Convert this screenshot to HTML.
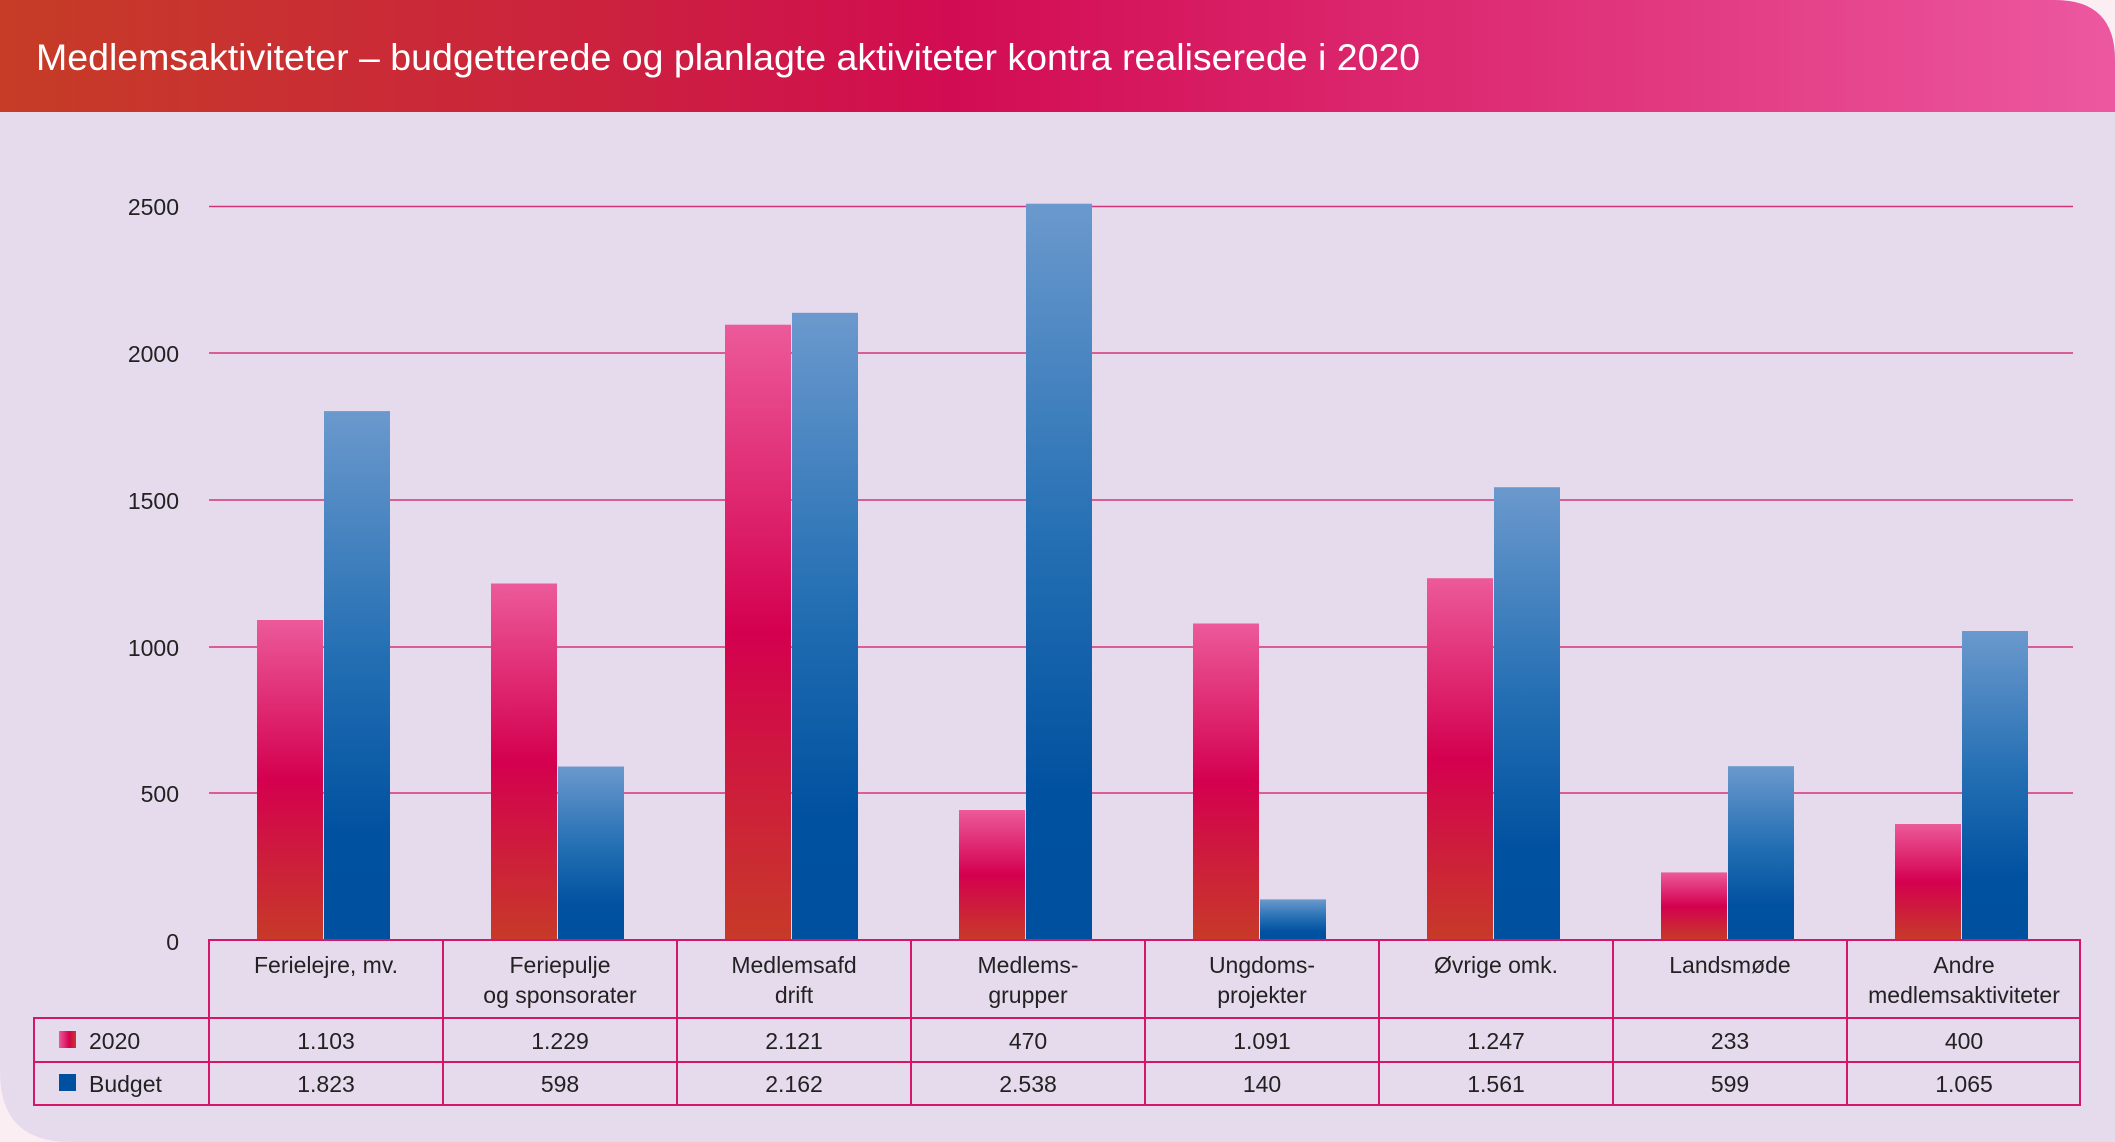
<!DOCTYPE html>
<html><head><meta charset="utf-8"><style>
html,body{margin:0;padding:0;background:#fbeef3;}
svg{display:block;font-family:"Liberation Sans",sans-serif;}
</style></head><body>
<svg width="2115" height="1142" viewBox="0 0 2115 1142" xmlns="http://www.w3.org/2000/svg">
<defs>
<linearGradient id="hd" x1="0" x2="1" y1="0" y2="0">
<stop offset="0" stop-color="#c63c26"/><stop offset="0.3" stop-color="#cc2040"/><stop offset="0.45" stop-color="#d20c52"/><stop offset="0.7" stop-color="#dd2c73"/><stop offset="1" stop-color="#ec58a0"/></linearGradient>
<linearGradient id="pk" x1="0" x2="0" y1="0" y2="1">
<stop offset="0" stop-color="#ec5a9a"/><stop offset="0.5" stop-color="#d4004f"/><stop offset="1" stop-color="#c73a28"/></linearGradient>
<linearGradient id="bl" x1="0" x2="0" y1="0" y2="1">
<stop offset="0" stop-color="#6b99cd"/><stop offset="0.45" stop-color="#2570b4"/><stop offset="0.8" stop-color="#0051a0"/><stop offset="1" stop-color="#0050a0"/></linearGradient>
<linearGradient id="lg" x1="0" x2="1"><stop offset="0" stop-color="#ec5a9a"/><stop offset="0.6" stop-color="#d4004f"/><stop offset="1" stop-color="#c73a28"/></linearGradient>
</defs>
<path d="M0 0 H2055 Q2115 0 2115 60 V1142 H70 Q0 1142 0 1072 Z" fill="#e6dbed"/>
<path d="M0 0 H2055 Q2115 0 2115 60 V112 H0 Z" fill="url(#hd)"/>
<text x="36" y="70" font-size="37.5" fill="#fff">Medlemsaktiviteter – budgetterede og planlagte aktiviteter kontra realiserede i 2020</text>
<g stroke="#d2347a" stroke-width="1.5">
<line x1="209" x2="2073" y1="206.5" y2="206.5"/>
<line x1="209" x2="2073" y1="353" y2="353"/>
<line x1="209" x2="2073" y1="500" y2="500"/>
<line x1="209" x2="2073" y1="647" y2="647"/>
<line x1="209" x2="2073" y1="793" y2="793"/>
</g>
<g font-size="23" fill="#222" text-anchor="end">
<text x="179" y="215">2500</text><text x="179" y="362">2000</text><text x="179" y="509">1500</text><text x="179" y="656">1000</text><text x="179" y="802">500</text><text x="179" y="950">0</text>
</g>
<g fill="url(#pk)">
<rect x="257" y="620" width="66" height="320"/>
<rect x="491" y="583.5" width="66" height="356.5"/>
<rect x="725" y="324.7" width="66" height="615.3"/>
<rect x="959" y="810" width="66" height="130"/>
<rect x="1193" y="623.5" width="66" height="316.5"/>
<rect x="1427" y="578.2" width="66" height="361.8"/>
<rect x="1661" y="872.4" width="66" height="67.6"/>
<rect x="1895" y="824" width="66" height="116"/>
</g>
<g fill="url(#bl)">
<rect x="324" y="411.1" width="66" height="528.9"/>
<rect x="558" y="766.5" width="66" height="173.5"/>
<rect x="792" y="312.8" width="66" height="627.2"/>
<rect x="1026" y="203.7" width="66" height="736.3"/>
<rect x="1260" y="899.4" width="66" height="40.6"/>
<rect x="1494" y="487.2" width="66" height="452.8"/>
<rect x="1728" y="766.2" width="66" height="173.8"/>
<rect x="1962" y="631" width="66" height="309"/>
</g>
<g stroke="#d4176a" stroke-width="2" fill="none">
<rect x="209" y="940" width="1871" height="165"/>
<rect x="34" y="1018" width="2046" height="87"/>
<line x1="34" x2="2080" y1="1062" y2="1062"/>
<line x1="443" x2="443" y1="940" y2="1105"/>
<line x1="677" x2="677" y1="940" y2="1105"/>
<line x1="911" x2="911" y1="940" y2="1105"/>
<line x1="1145" x2="1145" y1="940" y2="1105"/>
<line x1="1379" x2="1379" y1="940" y2="1105"/>
<line x1="1613" x2="1613" y1="940" y2="1105"/>
<line x1="1847" x2="1847" y1="940" y2="1105"/>
</g>
<g font-size="23" fill="#222" text-anchor="middle">
<text x="326" y="973">Ferielejre, mv.</text>
<text x="560" y="973">Feriepulje</text><text x="560" y="1003">og sponsorater</text>
<text x="794" y="973">Medlemsafd</text><text x="794" y="1003">drift</text>
<text x="1028" y="973">Medlems-</text><text x="1028" y="1003">grupper</text>
<text x="1262" y="973">Ungdoms-</text><text x="1262" y="1003">projekter</text>
<text x="1496" y="973">Øvrige omk.</text>
<text x="1730" y="973">Landsmøde</text>
<text x="1964" y="973">Andre</text><text x="1964" y="1003">medlemsaktiviteter</text>
<text x="326" y="1049">1.103</text><text x="560" y="1049">1.229</text><text x="794" y="1049">2.121</text><text x="1028" y="1049">470</text><text x="1262" y="1049">1.091</text><text x="1496" y="1049">1.247</text><text x="1730" y="1049">233</text><text x="1964" y="1049">400</text>
<text x="326" y="1092">1.823</text><text x="560" y="1092">598</text><text x="794" y="1092">2.162</text><text x="1028" y="1092">2.538</text><text x="1262" y="1092">140</text><text x="1496" y="1092">1.561</text><text x="1730" y="1092">599</text><text x="1964" y="1092">1.065</text>
</g>
<rect x="59" y="1031" width="17" height="17" fill="url(#lg)"/>
<rect x="59" y="1074" width="17" height="17" fill="#0050a0"/>
<text x="89" y="1049" font-size="23" fill="#222">2020</text>
<text x="89" y="1092" font-size="23" fill="#222">Budget</text>
</svg>
</body></html>
